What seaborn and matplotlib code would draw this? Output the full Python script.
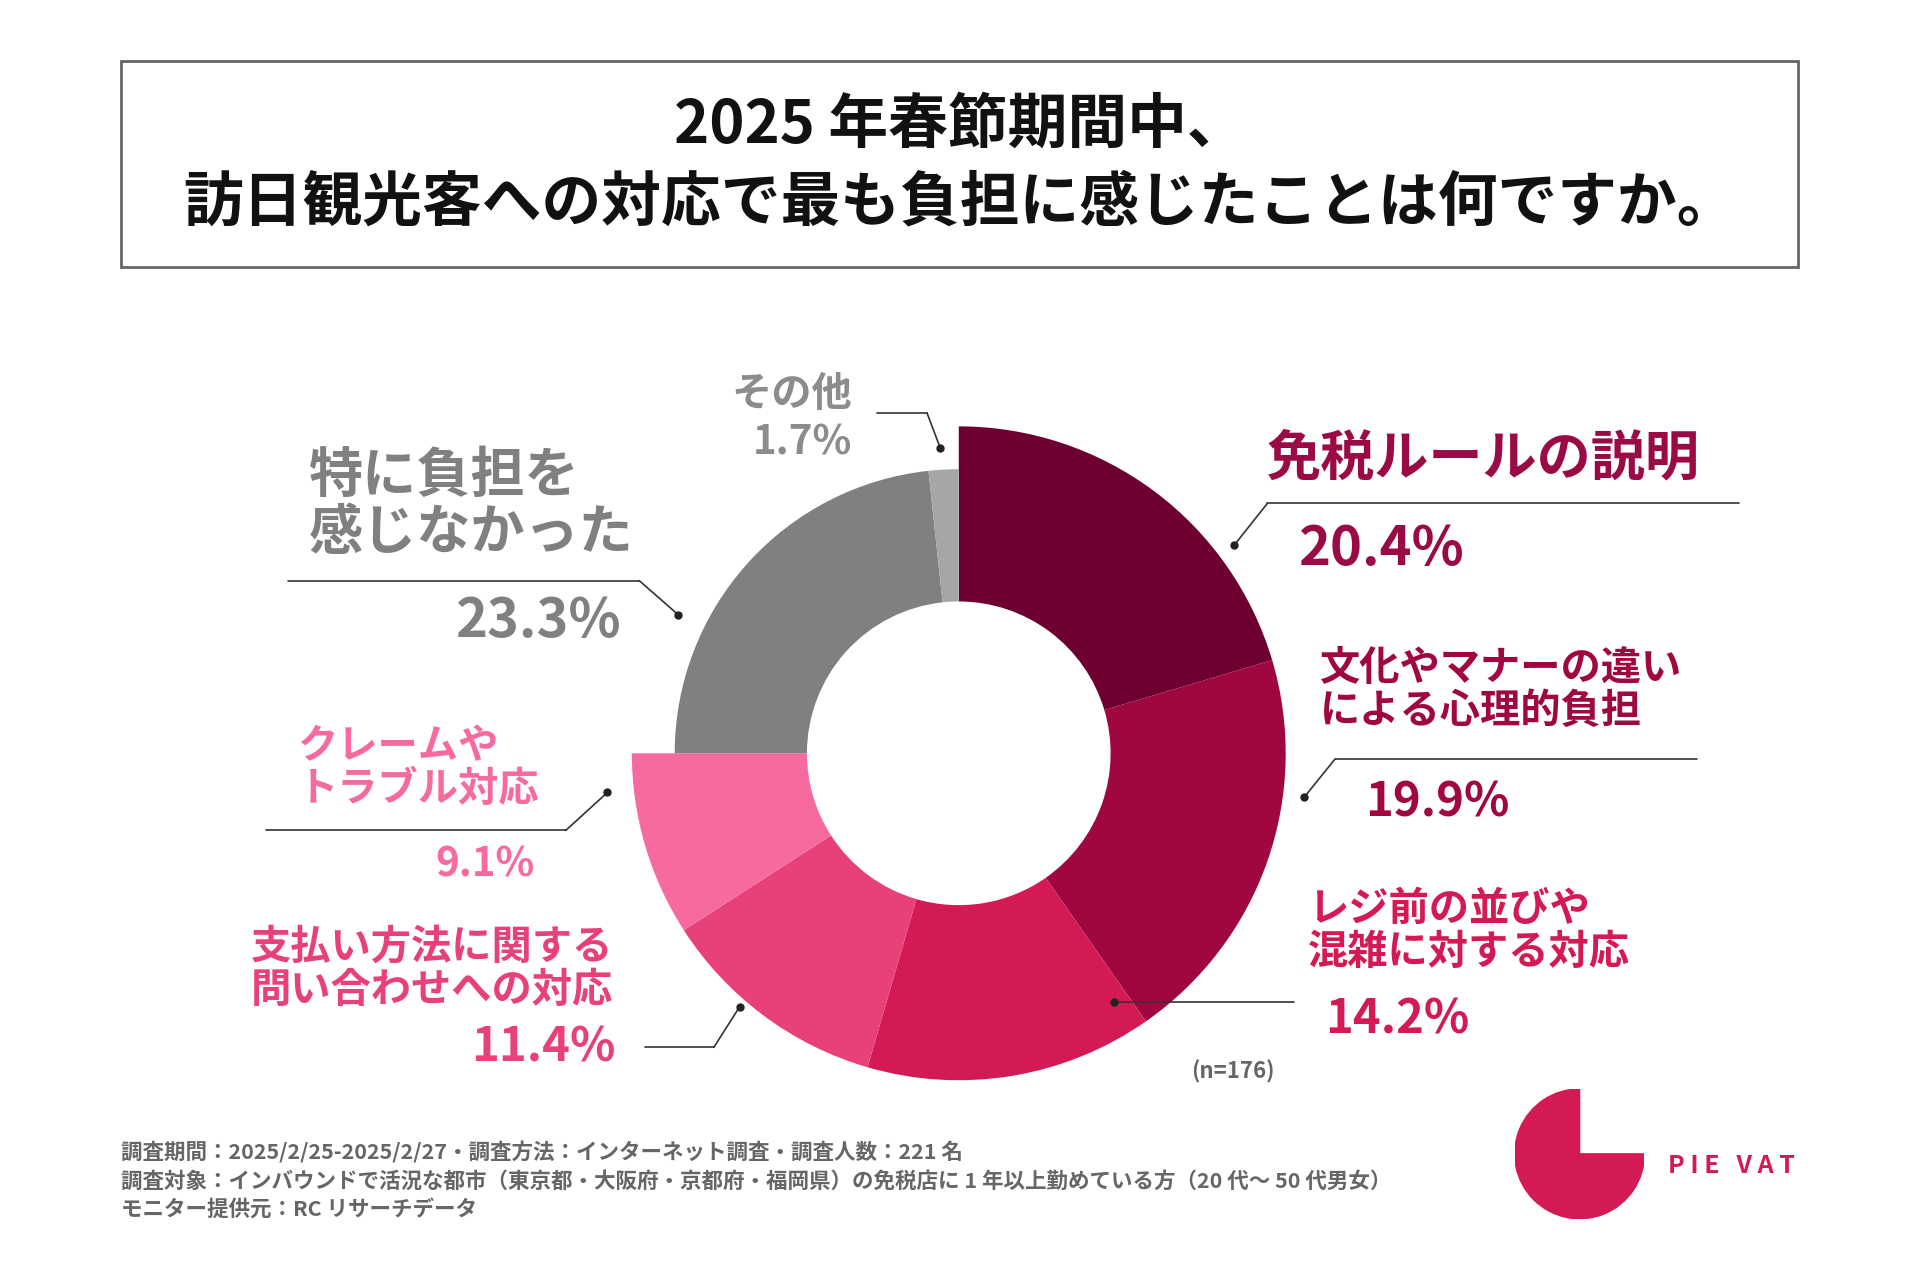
import matplotlib.pyplot as plt
from matplotlib.lines import Line2D
from matplotlib.patches import Rectangle, Wedge
import seaborn as sns

sns.set_theme(style="white")
plt.rcParams['font.family'] = ['Noto Sans CJK JP', 'DejaVu Sans']

categories = ["免税ルールの説明", "文化やマナーの違い\nによる心理的負担", "レジ前の並びや\n混雑に対する対応",
              "支払い方法に関する\n問い合わせへの対応", "クレームや\nトラブル対応", "特に負担を\n感じなかった", "その他"]
values = [20.4, 19.9, 14.2, 11.4, 9.1, 23.3, 1.7]
colors = ["#6d0030", "#a0063f", "#d41a54", "#e8417a", "#f76aa0", "#808080", "#a6a6a6"]
label_colors = ["#9a0b45", "#a0063f", "#d41a54", "#e8417a", "#f76aa0", "#808080", "#8c8c8c"]
footer = ["調査期間：2025/2/25-2025/2/27・調査方法：インターネット調査・調査人数：221 名",
          "調査対象：インバウンドで活況な都市（東京都・大阪府・京都府・福岡県）の免税店に 1 年以上勤めている方（20 代〜 50 代男女）",
          "モニター提供元：RC リサーチデータ"]

W, H = 1568, 1045
fx = lambda x: x / W
fy = lambda y: 1 - y / H

fig = plt.figure(figsize=(19.2, 12.8), dpi=100)
fig.patch.set_facecolor("white")

# title box
fig.add_artist(Rectangle((fx(99), fy(218)), fx(1468) - fx(99), fy(50) - fy(218),
                         transform=fig.transFigure, fill=False, ec="#666666", lw=2))
fig.text(0.5, fy(103), "2025 年春節期間中、", ha="center", va="center", fontsize=43, weight="bold", color="#111")
fig.text(0.5, fy(166), "訪日観光客への対応で最も負担に感じたことは何ですか。", ha="center", va="center",
         fontsize=43, weight="bold", color="#111")

# donut
R = 267
ax = fig.add_axes([fx(783 - R), fy(615 + R), 2 * R / W, 2 * R / H])
ax.set_aspect("equal")
big = [c if i < 5 else "none" for i, c in enumerate(colors)]
small = ["none" if i < 5 else c for i, c in enumerate(colors)]
ax.pie(values, colors=big, startangle=90, counterclock=False, radius=1.0,
       wedgeprops=dict(width=1 - 124 / R, lw=0))
ax.pie(values, colors=small, startangle=90, counterclock=False, radius=232 / R,
       wedgeprops=dict(width=(232 - 124) / R, lw=0))
ax.set_xlim(-1, 1)
ax.set_ylim(-1, 1)
ax.axis("off")

def leader(x1, x2, y, dx, dy):
    fig.add_artist(Line2D([fx(x1), fx(x2)], [fy(y), fy(y)], transform=fig.transFigure, color="#333", lw=1.2))
    sx = x1 if abs(dx - x1) < abs(dx - x2) else x2
    fig.add_artist(Line2D([fx(sx), fx(dx)], [fy(y), fy(dy)], transform=fig.transFigure, color="#333", lw=1.2))
    fig.add_artist(Line2D([fx(dx)], [fy(dy)], transform=fig.transFigure, marker="o", ms=5, color="#222"))

# labels: (x, y, ha, size, pct x, pct y, pct ha, pct size)
lab = [
    (1035, 375, "left", 39, 1060, 449, "left", 39),
    (1078, 563, "left", 29, 1115, 655, "left", 34),
    (1068, 760, "left", 29, 1082, 832, "left", 34),
    (205, 791, "left", 29, 503, 855, "right", 34),
    (243, 627, "left", 29, 437, 706, "right", 29),
    (252, 412, "left", 39, 507, 507, "right", 39),
    (647, 322, "center", 29, 655, 362, "center", 29),
]
for i, (x, y, ha, s, px, py, pha, ps) in enumerate(lab):
    fig.text(fx(x), fy(y), categories[i], ha=ha, va="center", fontsize=s, weight="bold",
             color=label_colors[i], linespacing=1.05)
    fig.text(fx(px), fy(py), f"{values[i]}%", ha=pha, va="center", fontsize=ps, weight="bold",
             color=label_colors[i])

leader(1035, 1420, 411, 1008, 445)
leader(1090, 1386, 620, 1065, 651)
leader(910, 1057, 818, 910, 818)
leader(527, 583, 855, 604, 822)
leader(217, 462, 678, 496, 647)
leader(235, 522, 474, 554, 502)
leader(716, 757, 337, 768, 366)

fig.text(fx(1007), fy(875), "(n=176)", ha="center", va="center", fontsize=16, weight="bold", color="#666")

for i, t in enumerate(footer):
    fig.text(fx(99), fy(941 + 23 * i), t, ha="left", va="center", fontsize=15.5, weight="bold", color="#666")

# logo
lax = fig.add_axes([fx(1237), fy(995), 106 / W, 106 / H])
lax.set_aspect("equal")
lax.add_patch(Wedge((0, 0), 1, 90, 360, color="#d41a54"))
lax.set_xlim(-1, 1)
lax.set_ylim(-1, 1)
lax.axis("off")
fig.text(fx(1362), fy(952), "P I E   V A T", ha="left", va="center", fontsize=18, weight="bold", color="#d41a54")

fig.savefig("out.png", dpi=100, facecolor="white")
